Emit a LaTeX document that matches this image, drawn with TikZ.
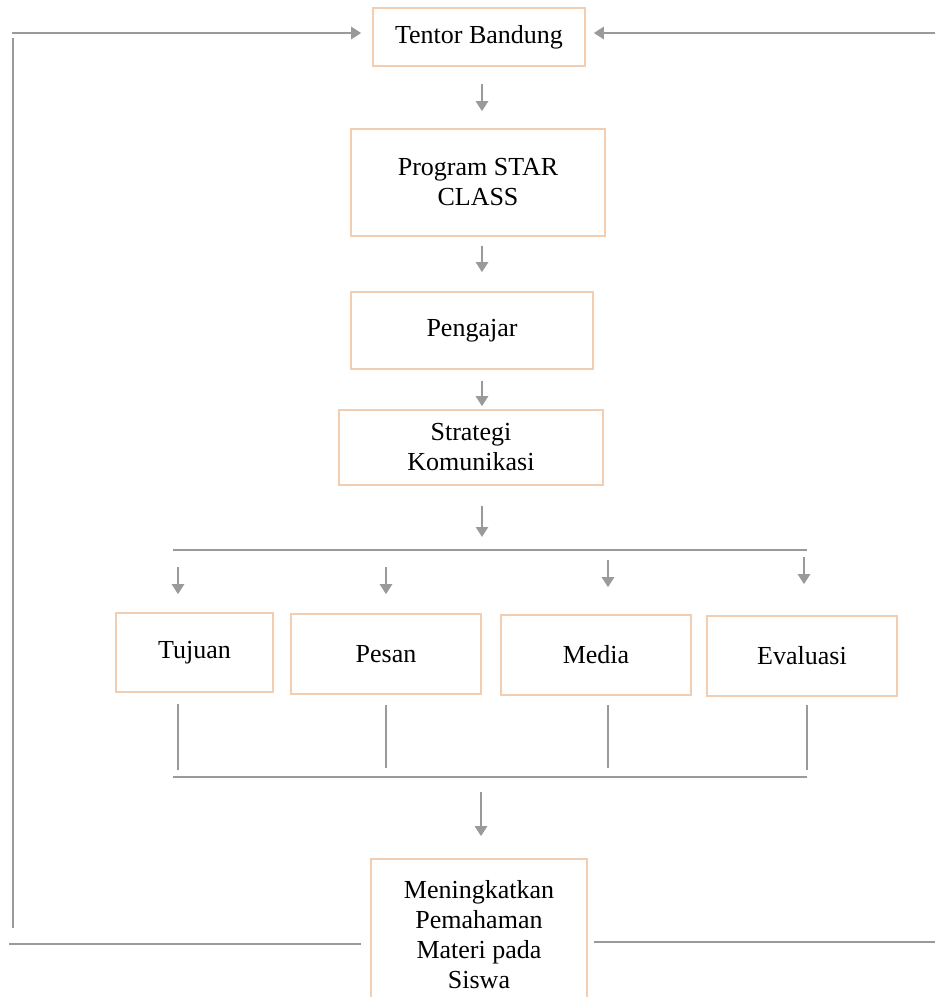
\documentclass[tikz,border=0pt]{standalone}
\usepackage{fontspec}
\setmainfont{Liberation Serif}
\usetikzlibrary{arrows.meta}
\definecolor{lncol}{HTML}{9A9A9A}
\definecolor{bxcol}{HTML}{F2CDB0}
\begin{document}
\begin{tikzpicture}[x=1pt,y=-1pt,
  box/.style={draw=bxcol, line width=1.6pt, fill=white, align=center, inner sep=0pt,
              font=\fontsize{26}{30}\selectfont},
  lnk/.style={draw=lncol, line width=2.9pt},
  arr/.style={lnk, -{Triangle[length=10pt,width=12pt]}},
]
\useasboundingbox (0,0) rectangle (935,997);
\fill[white] (0,0) rectangle (935,997);

% boxes
\node[box, minimum width=212pt, minimum height=58pt] (tentor) at (479,37) {Tentor Bandung};
\node[box, minimum width=254pt, minimum height=107pt] (program) at (478,182.5) {Program STAR\\CLASS};
\node[box, minimum width=242pt, minimum height=77pt] (pengajar) at (472,330.5) {Pengajar};
\node[box, minimum width=264pt, minimum height=75pt] (strategi) at (471,447.5) {Strategi\\Komunikasi};
\node[box, minimum width=157pt, minimum height=79pt] (tujuan) at (194.5,652.5) {Tujuan};
\node[box, minimum width=190pt, minimum height=80pt] (pesan) at (386,654) {Pesan};
\node[box, minimum width=190pt, minimum height=80pt] (media) at (596,655) {Media};
\node[box, minimum width=190pt, minimum height=80pt] (evaluasi) at (802,656) {Evaluasi};
\node[box, minimum width=216pt, minimum height=151pt] (hasil) at (479,934.5) {Meningkatkan\\Pemahaman\\Materi pada\\Siswa};

% vertical chain
\draw[arr] ([xshift=3pt,yshift=-17pt]tentor.south) -- ([xshift=4pt,yshift=17pt]program.north);
\draw[arr] ([xshift=4pt,yshift=-9pt]program.south) -- ([xshift=10pt,yshift=19pt]pengajar.north);
\draw[arr] ([xshift=10pt,yshift=-11pt]pengajar.south) -- ([xshift=11pt,yshift=3pt]strategi.north);
\coordinate (barTL) at (173,550);
\coordinate (barTR) at (807,550);
\draw[arr] ([xshift=11pt,yshift=-20pt]strategi.south) -- ([yshift=13pt]barTL -| 482,0);

% top bar and branches
\draw[lnk] (barTL) -- (barTR);
\coordinate (b1) at (178,567);
\coordinate (b2) at (386,567);
\coordinate (b3) at (608,560);
\coordinate (b4) at (804,557);
\draw[arr] (b1) -- ([yshift=18pt]b1 |- tujuan.north);
\draw[arr] (b2) -- ([yshift=19pt]b2 |- pesan.north);
\draw[arr] (b3) -- ([yshift=27pt]b3 |- media.north);
\draw[arr] (b4) -- ([yshift=31pt]b4 |- evaluasi.north);

% bottom verticals and bar
\coordinate (barBL) at (173,777);
\coordinate (barBR) at (807,777);
\coordinate (c4) at (807,700);
\draw[lnk] ([yshift=-11pt]b1 |- tujuan.south) -- ([yshift=7pt]b1 |- barBL);
\draw[lnk] ([yshift=-10pt]b2 |- pesan.south) -- ([yshift=9pt]b2 |- barBL);
\draw[lnk] ([yshift=-9pt]b3 |- media.south) -- ([yshift=9pt]b3 |- barBL);
\draw[lnk] ([yshift=-8pt]c4 |- evaluasi.south) -- ([yshift=7pt]c4 |- barBL);
\draw[lnk] (barBL) -- (barBR);

% to result
\draw[arr] ([xshift=2pt,yshift=-15pt]barBL -| hasil.north) -- ([xshift=2pt,yshift=22pt]hasil.north);

% feedback loop left
\coordinate (lb) at (9,944);
\coordinate (lv1) at (13,928);
\coordinate (lv2) at (13,38);
\coordinate (lt) at (12,33);
\draw[lnk] (lb) -- ([xshift=-9pt]lb -| hasil.west);
\draw[lnk] (lv1) -- (lv2);
\draw[arr] (lt) -- ([xshift=-11pt]lt -| tentor.west);

% feedback loop right
\coordinate (rb) at (936,942);
\coordinate (rt) at (936,33);
\draw[lnk] ([xshift=6pt]rb -| hasil.east) -- (rb);
\draw[arr] (rt) -- ([xshift=8pt]rt -| tentor.east);
\end{tikzpicture}
\end{document}
